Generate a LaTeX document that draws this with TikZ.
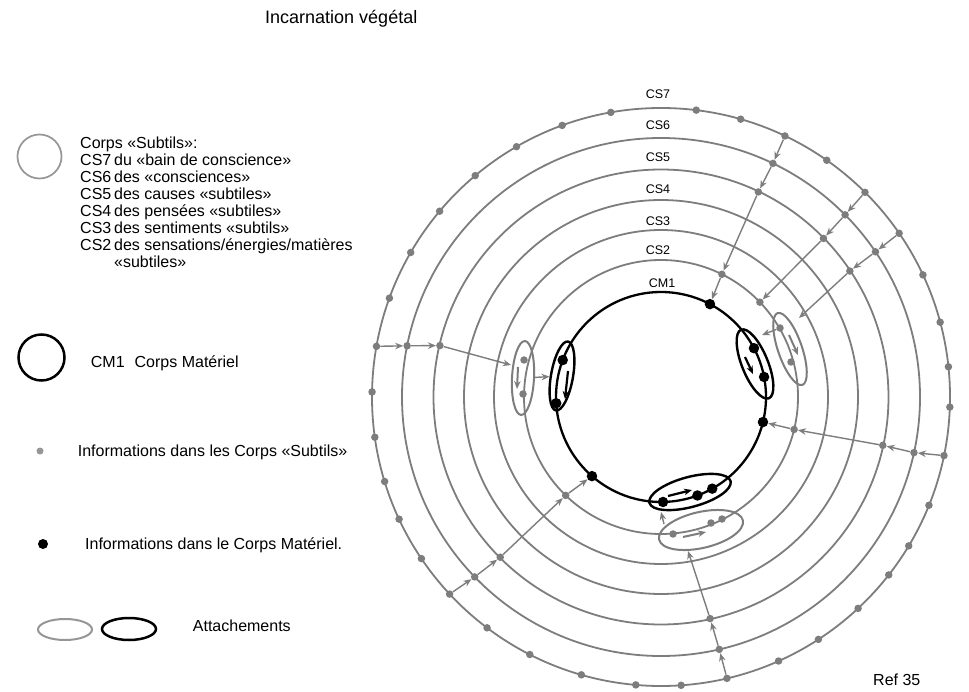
\documentclass[tikz,border=0pt]{standalone}
\usepackage{fontspec}
\setmainfont{Liberation Sans}
\usetikzlibrary{arrows.meta,shapes.geometric}
\definecolor{rg}{RGB}{125,125,125}
\definecolor{lg}{RGB}{150,150,150}
\begin{document}
\begin{tikzpicture}[x=1pt,y=1pt,
  ring/.style={circle,draw=rg,line width=1.8pt,inner sep=0pt},
  matring/.style={circle,draw=black,line width=2.3pt,inner sep=0pt},
  gdot/.style={circle,fill=rg,inner sep=0pt,minimum size=7.5pt},
  bdot/.style={circle,fill=black,inner sep=0pt,minimum size=10.5pt},
  garr/.style={draw=rg,line width=1.4pt,-{Stealth[length=8pt,width=6.5pt]}},
  gthick/.style={draw=rg,line width=2pt,-{Stealth[length=8pt,width=6.5pt]}},
  barr/.style={draw=black,line width=2.2pt,-{Stealth[length=8pt,width=6.5pt]}},
  gell/.style={ellipse,draw=rg,line width=2pt,inner sep=0pt},
  bell/.style={ellipse,draw=black,line width=2.4pt,inner sep=0pt},
  lbl/.style={font=\fontsize{16}{19}\selectfont,anchor=base west,inner sep=0pt},
  rlbl/.style={font=\fontsize{12.5}{14}\selectfont,inner sep=0pt}]

\fill[white] (0,0) rectangle (969,-692);
\useasboundingbox (0,0) rectangle (969,-692);

\coordinate (C) at (661,-397);

% rings
\node[ring,minimum size=578pt] (cs7) at (C) {};
\node[ring,minimum size=518pt] (cs6) at (C) {};
\node[ring,minimum size=455pt] (cs5) at (C) {};
\node[ring,minimum size=394pt] (cs4) at (C) {};
\node[ring,minimum size=334pt] (cs3) at (C) {};
\node[ring,minimum size=274pt] (cs2) at (C) {};
\node[matring,minimum size=210pt] (cm1) at (C) {};

% ring labels
\node[rlbl] (l7) at (658,-94) {CS7};
\node[rlbl] (l6) at (658,-125) {CS6};
\node[rlbl] (l5) at (658,-157) {CS5};
\node[rlbl] (l4) at (658,-189) {CS4};
\node[rlbl] (l3) at (658,-221) {CS3};
\node[rlbl] (l2) at (658,-250) {CS2};
\node[rlbl] (l1) at (662,-283) {CM1};

% ellipses (attachements)
\node[gell,minimum width=22pt,minimum height=74pt,rotate=-3] (egl) at (523,-378) {};
\node[bell,minimum width=22pt,minimum height=70pt,rotate=-10] (ebl) at (562,-376) {};
\node[bell,minimum width=26pt,minimum height=74pt,rotate=22] (ebr) at (755,-364) {};
\node[gell,minimum width=24pt,minimum height=76pt,rotate=19] (egr) at (790,-349) {};
\node[bell,minimum width=84pt,minimum height=30pt,rotate=15] (ebb) at (690,-492) {};
\node[gell,minimum width=86pt,minimum height=36pt,rotate=13] (egb) at (701,-530) {};

% outer ring dots
\foreach \a [count=\i] in {179,-172,-163,-155,-146,-127,-117,-106,-95,-86,-66,-57,-47,-38,-31,-22,-2,6,15,25,55,74,83,100,110,120,130,140,150,160}
  \node[gdot] (o\i) at ([shift={(\a:289)}]C) {};

% chain dots
\node[gdot] (t7) at ([shift={(64.6:289)}]C) {};
\node[gdot] (t6) at ([shift={(64.4:259)}]C) {};
\node[gdot] (t5) at ([shift={(64.6:227)}]C) {};
\node[gdot] (t2) at ([shift={(63.6:137)}]C) {};
\node[bdot] (t1) at ([shift={(62.2:105)}]C) {};

\node[gdot] (a7) at ([shift={(45.1:289)}]C) {};
\node[gdot] (a6) at ([shift={(44.7:259)}]C) {};
\node[gdot] (a5) at ([shift={(44.3:227)}]C) {};
\node[gdot] (a2) at ([shift={(43.8:137)}]C) {};

\node[gdot] (b7) at ([shift={(34.5:289)}]C) {};
\node[gdot] (b6) at ([shift={(34.1:259)}]C) {};
\node[gdot] (b5) at ([shift={(33.7:227)}]C) {};

\node[gdot] (r7) at ([shift={(-11.7:289)}]C) {};
\node[gdot] (r6) at ([shift={(-12.4:259)}]C) {};
\node[gdot] (r5) at ([shift={(-12.3:227)}]C) {};
\node[gdot] (r2) at ([shift={(-13.7:137)}]C) {};
\node[bdot] (r1) at ([shift={(-13.8:105)}]C) {};

\node[gdot] (u7) at ([shift={(-76.8:289)}]C) {};
\node[gdot] (u6) at ([shift={(-77:259)}]C) {};
\node[gdot] (u5) at ([shift={(-77.5:227)}]C) {};

\node[gdot] (d7) at ([shift={(-137:289)}]C) {};
\node[gdot] (d6) at ([shift={(-136:259)}]C) {};
\node[gdot] (d5) at ([shift={(-135.1:227)}]C) {};
\node[gdot] (d2) at ([shift={(-134.1:137)}]C) {};
\node[bdot] (d1) at ([shift={(-131.1:105)}]C) {};

\node[gdot] (w7) at ([shift={(169.9:289)}]C) {};
\node[gdot] (w6) at ([shift={(168.6:259)}]C) {};
\node[gdot] (w5) at ([shift={(166.9:227)}]C) {};

% dots inside attachments
\node[gdot] (gl1) at (524,-360) {};
\node[gdot] (gl2) at (523,-394) {};
\node[bdot] (bl1) at ([shift={(159.4:105)}]C) {};
\node[bdot] (bl2) at ([shift={(183.4:105)}]C) {};
\node[bdot] (br1) at ([shift={(27.7:105)}]C) {};
\node[bdot] (br2) at ([shift={(11:105)}]C) {};
\node[gdot] (gr1) at (780,-328) {};
\node[gdot] (gr2) at (791,-362) {};
\node[bdot] (bb1) at ([shift={(-88.9:105)}]C) {};
\node[bdot] (bb2) at ([shift={(-69.7:105)}]C) {};
\node[bdot] (bb3) at ([shift={(-60.8:105)}]C) {};
\node[gdot] (gb1) at (673,-534) {};
\node[gdot] (gb2) at (711,-523) {};
\node[gdot] (gb3) at (722,-519) {};

% chain arrows
\draw[garr] (t7) -- (t6);
\draw[garr] (t6) -- (t5);
\draw[garr] (t5) -- (t2);
\draw[garr] (t2) -- (t1);

\draw[garr] (a7) -- (a6);
\draw[garr] (a6) -- (a5);
\draw[garr] (a5) -- (a2);

\coordinate (egrin) at (799,-318);
\draw[garr] (b7) -- (b6);
\draw[garr] (b6) -- (b5);
\draw[garr] (b5) -- (egrin);

\draw[garr] (r7) -- (r6);
\draw[garr] (r6) -- (r5);
\draw[garr] (r5) -- (r2);
\draw[garr] (r2) -- (r1);

\coordinate (egbin) at (688,-551);
\draw[garr] (u7) -- (u6);
\draw[garr] (u6) -- (u5);
\draw[garr] (u5) -- (egbin);

\draw[garr] (d7) -- (d6);
\draw[garr] (d6) -- (d5);
\draw[garr] (d5) -- (d2);
\draw[garr] (d2) -- (d1);

\coordinate (eglin) at (511,-365);
\draw[garr] (w7) -- (w6);
\draw[garr] (w6) -- (w5);
\draw[garr] (w5) -- (eglin);

% attachment arrows
\draw[garr] (egl) -- (ebl);
\coordinate (ebrin) at (762,-335);
\draw[garr] (gr1) -- (ebrin);
\coordinate (egbout) at (664,-524);
\coordinate (ebbin) at (661,-512);
\draw[garr] (egbout) -- (ebbin);

% arrows inside attachments
\coordinate (ia1) at (518,-367); \coordinate (ib1) at (517,-389);
\draw[gthick] (ia1) -- (ib1);
\coordinate (ia2) at (568,-371); \coordinate (ib2) at (565,-399);
\draw[barr] (ia2) -- (ib2);
\coordinate (ia3) at (745,-357); \coordinate (ib3) at (753,-374);
\draw[barr] (ia3) -- (ib3);
\coordinate (ia4) at (789,-335); \coordinate (ib4) at (798,-355);
\draw[gthick] (ia4) -- (ib4);
\coordinate (ia5) at (668,-496); \coordinate (ib5) at (692,-490);
\draw[barr] (ia5) -- (ib5);
\coordinate (ia6) at (683,-537); \coordinate (ib6) at (706,-532);
\draw[gthick] (ia6) -- (ib6);

% title
\node[lbl,font=\fontsize{18}{21}\selectfont] (title) at (265,-24) {Incarnation végétal};

% legend
\node[circle,draw=lg,line width=1.7pt,minimum size=44pt,inner sep=0pt] (lc1) at (39.5,-156.5) {};
\node[lbl] (lt0) at (80,-148.4) {Corps «Subtils»:};
\node[lbl] (lt7) at (80,-165.4) {\makebox[34pt][l]{CS7}du «bain de conscience»};
\node[lbl] (lt6) at (80,-182.4) {\makebox[34pt][l]{CS6}des «consciences»};
\node[lbl] (lt5) at (80,-199.4) {\makebox[34pt][l]{CS5}des causes «subtiles»};
\node[lbl] (lt4) at (80,-216.4) {\makebox[34pt][l]{CS4}des pensées «subtiles»};
\node[lbl] (lt3) at (80,-233.4) {\makebox[34pt][l]{CS3}des sentiments «subtils»};
\node[lbl] (lt2) at (80,-250.4) {\makebox[34pt][l]{CS2}des sensations/énergies/matières};
\node[lbl] (lt1) at (114,-267.4) {«subtiles»};

\node[circle,draw=black,line width=2.5pt,minimum size=46pt,inner sep=0pt] (lc2) at (41.5,-357.5) {};
\node[lbl] (ltm) at (90.7,-367.4) {CM1\hspace{10pt}Corps Matériel};

\node[circle,fill=lg,inner sep=0pt,minimum size=7pt] (ld1) at (40,-451) {};
\node[lbl] (ltd1) at (77.7,-456.4) {Informations dans les Corps «Subtils»};

\node[circle,fill=black,inner sep=0pt,minimum size=10pt] (ld2) at (43,-544) {};
\node[lbl] (ltd2) at (85,-549.7) {Informations dans le Corps Matériel.};

\node[ellipse,draw=lg,line width=2pt,inner sep=0pt,minimum width=54pt,minimum height=21pt] (le1) at (65,-629.5) {};
\node[ellipse,draw=black,line width=2.5pt,inner sep=0pt,minimum width=54pt,minimum height=22pt] (le2) at (129,-629) {};
\node[lbl] (lta) at (192.7,-631.7) {Attachements};

\node[lbl] (ref) at (873,-685.7) {Ref 35};
\end{tikzpicture}
\end{document}
